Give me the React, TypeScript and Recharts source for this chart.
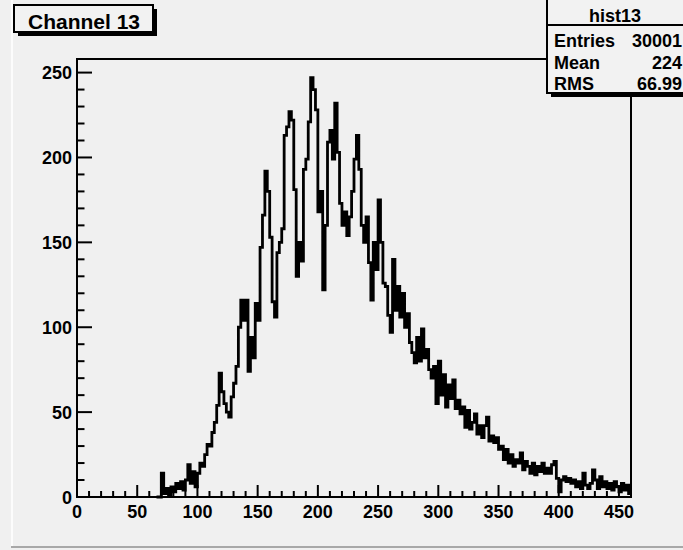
import React from 'react';
import { ComposedChart, Line, XAxis, YAxis, ReferenceArea } from 'recharts';

// histogram bins (bin start = binStart + i * binWidth), counts per bin
const binStart = 66;
const binWidth = 2;
const counts = [
  0, 0, 14, 2, 5, 1, 6, 3, 8, 5, 9, 4, 10, 19, 8, 15, 6, 14, 20, 18,
  25, 31, 30, 38, 44, 54, 73, 62, 55, 50, 47, 59, 67, 77, 100, 116, 104, 116, 74, 94,
  82, 114, 104, 147, 166, 192, 180, 153, 115, 106, 144, 150, 158, 213, 218, 227, 222, 181, 130, 150,
  139, 193, 199, 221, 247, 240, 228, 168, 180, 122, 160, 209, 216, 199, 232, 203, 173, 160, 168, 154,
  165, 180, 199, 213, 193, 160, 150, 165, 138, 116, 150, 134, 175, 150, 126, 124, 107, 97, 140, 110,
  124, 106, 120, 100, 108, 91, 85, 79, 94, 80, 99, 82, 87, 75, 70, 77, 55, 80, 60, 72,
  53, 66, 58, 69, 52, 57, 49, 53, 41, 51, 40, 44, 49, 37, 42, 35, 42, 47, 33, 36,
  32, 35, 28, 30, 22, 28, 20, 25, 18, 22, 20, 26, 16, 21, 18, 14, 20, 13, 18, 15,
  20, 14, 17, 14, 19, 21, 11, 3, 10, 12, 9, 11, 8, 10, 6, 9, 5, 14, 7, 5,
  8, 16, 10, 5, 12, 6, 9, 5, 8, 4, 9, 6, 3, 8, 4, 7, 2
];

const xTicks = [0, 10, 20, 30, 40, 50, 60, 70, 80, 90, 100, 110, 120, 130, 140, 150, 160, 170, 180, 190,
  200, 210, 220, 230, 240, 250, 260, 270, 280, 290, 300, 310, 320, 330, 340, 350, 360, 370, 380, 390,
  400, 410, 420, 430, 440, 450, 460];
const xLabels = [0, 50, 100, 150, 200, 250, 300, 350, 400, 450];
const yTicks = [0, 10, 20, 30, 40, 50, 60, 70, 80, 90, 100, 110, 120, 130, 140, 150, 160, 170, 180, 190,
  200, 210, 220, 230, 240, 250];
const yLabels = [0, 50, 100, 150, 200, 250];

const histName = 'hist13';
const statNames = ['Entries', 'Mean', 'RMS'];
const statValues = ['30001', '224', '66.99'];
const title = 'Channel 13';

const data = counts.map((c, i) => ({ x: binStart + i * binWidth, count: c }));
data.push({ x: binStart + counts.length * binWidth, count: counts[counts.length - 1] });

const font = "'Liberation Sans', Arial, sans-serif";

const renderXTick = (props: any) => {
  const { x, y, payload } = props;
  const major = xLabels.includes(payload.value);
  return (
    <g key={'xt' + payload.value}>
      <line x1={x} x2={x} y1={y} y2={y - (major ? 12 : 6)} stroke="#000" strokeWidth={2} />
      {major && (
        <text x={x} y={y + 21} textAnchor="middle" fontFamily={font} fontWeight="bold" fontSize={18} fill="#000">
          {payload.value}
        </text>
      )}
    </g>
  );
};

const renderYTick = (props: any) => {
  const { x, y, payload } = props;
  const major = yLabels.includes(payload.value);
  return (
    <g key={'yt' + payload.value}>
      <line x1={x} x2={x + (major ? 15 : 7.5)} y1={y} y2={y} stroke="#000" strokeWidth={2} />
      {major && (
        <text x={x - 5} y={y + 6.5} textAnchor="end" fontFamily={font} fontWeight="bold" fontSize={18} fill="#000">
          {payload.value}
        </text>
      )}
    </g>
  );
};

export default function App() {
  return (
    <div style={{ position: 'absolute', left: 0, top: 0, width: 683, height: 550, background: '#f0f0f0', overflow: 'hidden' }}>
      <ComposedChart width={683} height={550} data={data} margin={{ top: 59, right: 52, bottom: 0, left: 0 }}>
        <XAxis type="number" dataKey="x" domain={[0, 460]} ticks={xTicks} interval={0} height={53}
          tickSize={0} tickMargin={0} tickLine={false} tick={renderXTick} axisLine={{ stroke: '#000', strokeWidth: 2 }} />
        <YAxis type="number" domain={[0, 258]} ticks={yTicks} interval={0} width={77}
          tickSize={0} tickMargin={0} tickLine={false} tick={renderYTick} axisLine={{ stroke: '#000', strokeWidth: 2 }} />
        <ReferenceArea x1={0} x2={460} y1={0} y2={258} fill="none" fillOpacity={0} stroke="#000" strokeWidth={2} />
        <Line type="stepAfter" dataKey="count" stroke="#000" strokeWidth={2.8} dot={false} activeDot={false}
          strokeLinejoin="miter" isAnimationActive={false} />
      </ComposedChart>
      <svg width={683} height={550} style={{ position: 'absolute', left: 0, top: 0, pointerEvents: 'none' }}>
        <rect x={11} y={0} width={2} height={546} fill="#fcfcfc" />
        <rect x={11} y={546} width={672} height={2} fill="#a8a8a8" />
        {/* title box */}
        <rect x={18} y={9} width={139} height={27} fill="#000" />
        <rect x={14} y={5} width={139} height={27} fill="#f2f2f2" stroke="#000" strokeWidth={2} />
        <text x={84} y={29} textAnchor="middle" fontFamily={font} fontWeight="bold" fontSize={21} fill="#000">{title}</text>
        {/* stats box */}
        <rect x={551} y={2} width={140} height={95} fill="#000" />
        <rect x={547} y={-2} width={140} height={95} fill="#f2f2f2" stroke="#000" strokeWidth={2} />
        <line x1={547} x2={683} y1={25} y2={25} stroke="#000" strokeWidth={2} />
        <text x={615} y={22} textAnchor="middle" fontFamily={font} fontWeight="bold" fontSize={18} fill="#000">{histName}</text>
        {statNames.map((n, i) => (
          <g key={n}>
            <text x={554} y={47 + i * 21.5} fontFamily={font} fontWeight="bold" fontSize={18} fill="#000">{n}</text>
            <text x={682} y={47 + i * 21.5} textAnchor="end" fontFamily={font} fontWeight="bold" fontSize={18} fill="#000">{statValues[i]}</text>
          </g>
        ))}
      </svg>
    </div>
  );
}
